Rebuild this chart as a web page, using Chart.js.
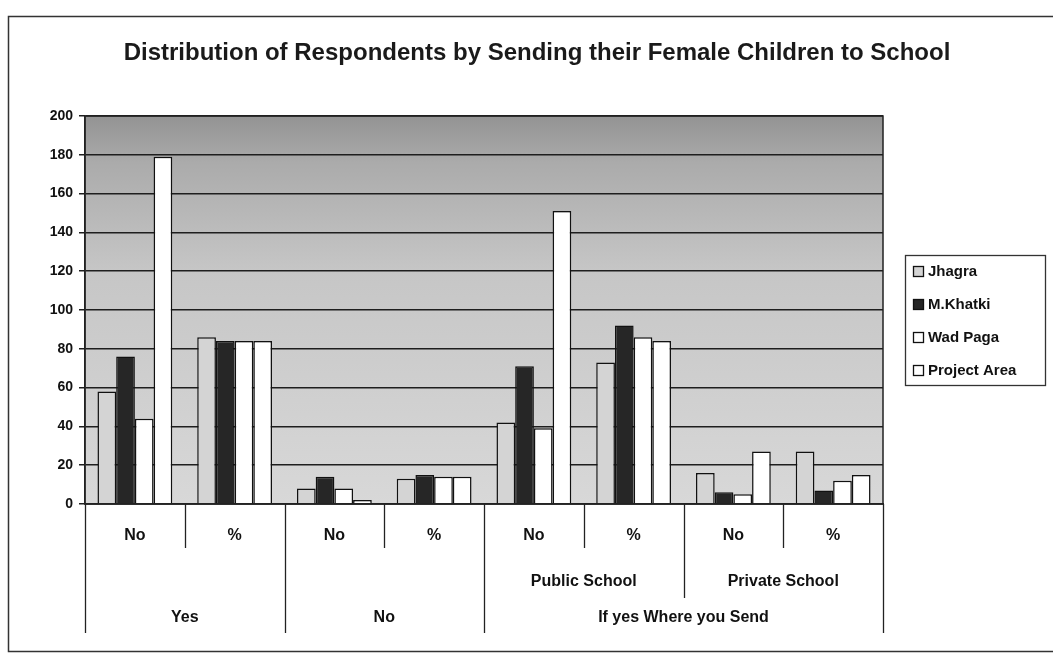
<!DOCTYPE html>
<html>
<head>
<meta charset="utf-8">
<script src="https://cdn.jsdelivr.net/npm/chart.js@4/dist/chart.umd.min.js"></script>
<style>
  body { margin: 0; background: #fff; }
  #wrap { width: 1053px; height: 665px; }
</style>
</head>
<body>
<div id="wrap"><canvas id="myChart" width="1053" height="665"></canvas></div>
<script>
// data
const chartTitle = "Distribution of Respondents by Sending their Female Children to School";
const categories = ["No", "%", "No", "%", "No", "%", "No", "%"];
const schoolGroups = ["", "", "", "", "Public School", "Public School", "Private School", "Private School"];
const answerGroups = ["Yes", "Yes", "No", "No", "If yes Where you Send", "If yes Where you Send", "If yes Where you Send", "If yes Where you Send"];
const yTicks = [0, 20, 40, 60, 80, 100, 120, 140, 160, 180, 200];

const jhagra = [58, 86, 8, 13, 42, 73, 16, 27];
const khatki = [76, 84, 14, 15, 71, 92, 6, 7];
const wadPaga = [44, 84, 8, 14, 39, 86, 5, 12];
const projectArea = [179, 84, 2, 14, 151, 84, 27, 15];

const FONT = "'Liberation Sans', Arial, sans-serif";

// grey plot background like the old Excel chart, plus title and frame
const plotBack = {
	id: "plotBack",
	beforeDraw(chart) {
		const a = chart.chartArea, ctx = chart.ctx;
		const g = ctx.createLinearGradient(0, a.top, 0, a.bottom);
		g.addColorStop(0, "#939393");
		g.addColorStop(0.12, "#ababab");
		g.addColorStop(0.4, "#c6c6c6");
		g.addColorStop(1, "#d8d8d8");
		ctx.save();
		ctx.fillStyle = g;
		ctx.fillRect(a.left, a.top, a.right - a.left, a.bottom - a.top);
		ctx.restore();
	},
	afterDraw(chart) {
		const a = chart.chartArea, ctx = chart.ctx;
		ctx.save();
		ctx.strokeStyle = "#222";
		ctx.lineWidth = 1.5;
		ctx.strokeRect(a.left, a.top, a.right - a.left, a.bottom - a.top);
		// outer chart frame
		ctx.strokeStyle = "#333";
		ctx.strokeRect(8.5, 16.5, 1100, 635);
		// title
		ctx.fillStyle = "#1a1a1a";
		ctx.font = "bold 24px " + FONT;
		ctx.textAlign = "center";
		ctx.textBaseline = "middle";
		ctx.fillText(chartTitle, 537, 53);
		ctx.restore();
	}
};

// multi level category axis
const groupAxis = {
	id: "groupAxis",
	afterDraw(chart) {
		const xs = chart.scales.x, ctx = chart.ctx;
		const n = categories.length;
		const w = (xs.right - xs.left) / n;
		const top = chart.chartArea.bottom;
		ctx.save();
		ctx.strokeStyle = "#222";
		ctx.lineWidth = 1.3;
		for (let i = 0; i <= n; i++) {
			let depth = 44;
			if (i == 0 || i == n || answerGroups[i - 1] != answerGroups[i]) depth = 129;
			else if (schoolGroups[i - 1] != schoolGroups[i]) depth = 94;
			const x = Math.round(xs.left + i * w) + 0.5;
			ctx.beginPath();
			ctx.moveTo(x, top);
			ctx.lineTo(x, top + depth);
			ctx.stroke();
		}
		ctx.fillStyle = "#111";
		ctx.textAlign = "center";
		ctx.textBaseline = "middle";
		ctx.font = "bold 16px " + FONT;
		for (let i = 0; i < n; i++) {
			ctx.fillText(categories[i], xs.left + (i + 0.5) * w, top + 32);
		}
		const rows = [[schoolGroups, top + 78], [answerGroups, top + 114]];
		rows.forEach(function(r) {
			const arr = r[0];
			let s = 0;
			for (let i = 1; i <= n; i++) {
				if (i == n || arr[i] != arr[s]) {
					if (arr[s] != "") {
						ctx.fillText(arr[s], xs.left + ((s + i) / 2) * w, r[1]);
					}
					s = i;
				}
			}
		});
		ctx.restore();
	}
};

// boxed legend on the right
const boxLegend = {
	id: "boxLegend",
	afterDraw(chart) {
		const ctx = chart.ctx;
		const x0 = 905, y0 = 255, bw = 140, bh = 130;
		ctx.save();
		ctx.strokeStyle = "#333";
		ctx.lineWidth = 1.3;
		ctx.strokeRect(x0 + 0.5, y0 + 0.5, bw, bh);
		ctx.font = "bold 15px " + FONT;
		ctx.textBaseline = "middle";
		ctx.textAlign = "left";
		chart.data.datasets.forEach(function(ds, i) {
			const y = y0 + 16 + i * 33;
			ctx.fillStyle = ds.backgroundColor;
			ctx.fillRect(x0 + 8, y - 5, 10, 10);
			ctx.strokeStyle = "#111";
			ctx.strokeRect(x0 + 8.5, y - 4.5, 10, 10);
			ctx.fillStyle = "#111";
			ctx.fillText(ds.label, x0 + 23, y + 1);
		});
		ctx.restore();
	}
};

var ctx = document.getElementById("myChart").getContext("2d");
var myChart = new Chart(ctx, {
	type: "bar",
	data: {
		labels: categories,
		datasets: [
			{ label: "Jhagra", data: jhagra, backgroundColor: "#d4d4d4" },
			{ label: "M.Khatki", data: khatki, backgroundColor: "#262626" },
			{ label: "Wad Paga", data: wadPaga, backgroundColor: "#ffffff" },
			{ label: "Project Area", data: projectArea, backgroundColor: "#ffffff" }
		]
	},
	plugins: [plotBack, groupAxis, boxLegend],
	options: {
		responsive: false,
		animation: false,
		layout: { padding: { top: 116, left: 0, right: 170, bottom: 13 } },
		datasets: {
			bar: {
				borderColor: "#111",
				borderWidth: 1.5,
				categoryPercentage: 0.75,
				barPercentage: 1
			}
		},
		plugins: {
			legend: { display: false },
			tooltip: { enabled: false },
			title: { display: false }
		},
		scales: {
			x: {
				grid: { display: false },
				border: { display: true, color: "#222", width: 1.5 },
				ticks: { display: false },
				afterFit: function(scale) { scale.height = 148; }
			},
			y: {
				min: 0,
				max: 200,
				afterBuildTicks: function(scale) {
					scale.ticks = yTicks.map(function(v) { return { value: v }; });
				},
				grid: { color: "#1e1e1e", lineWidth: 1.5, tickLength: 6 },
				border: { display: true, color: "#222", width: 1.5 },
				ticks: {
					color: "#111",
					padding: 6,
					font: { family: FONT, size: 14, weight: "bold" }
				},
				afterFit: function(scale) { scale.width = 85; }
			}
		}
	}
});
</script>
</body>
</html>
